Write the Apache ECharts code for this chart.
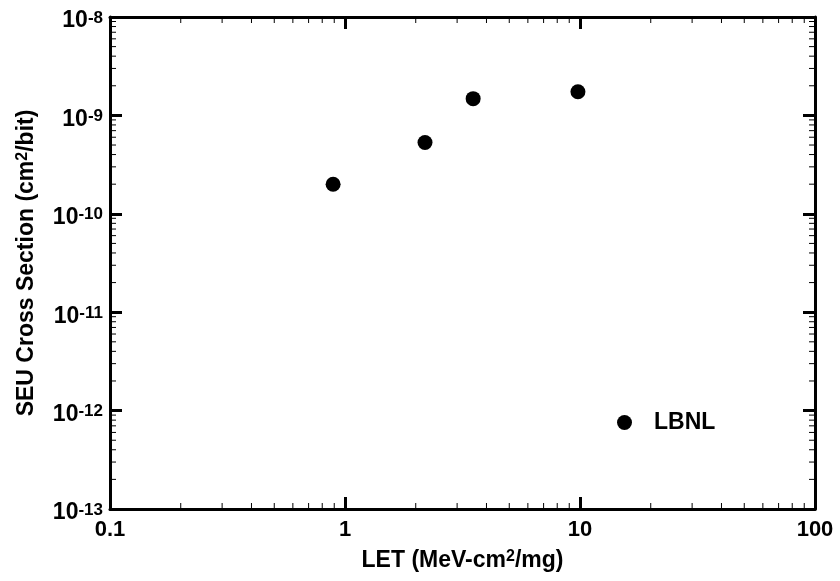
<!DOCTYPE html>
<html>
<head>
<meta charset="utf-8">
<script src="https://cdn.jsdelivr.net/npm/echarts@6/dist/echarts.min.js"></script>
<style>html,body{margin:0;padding:0;background:#fff}#c{width:840px;height:581px}</style>
</head>
<body>
<div id="c"></div>
<script>
// Data
var seriesName = 'LBNL';
var letValues = [0.89, 2.19, 3.51, 9.8];
var crossSection = [2.0e-10, 5.3e-10, 1.48e-9, 1.74e-9];
var xTicks = [0.1, 1, 10, 100];
var xTickLabels = ['0.1', '1', '10', '100'];
var yExponents = ['-13', '-12', '-11', '-10', '-9', '-8'];
var xMinor = [0.2,0.3,0.4,0.5,0.6,0.7,0.8,0.9, 2,3,4,5,6,7,8,9, 20,30,40,50,60,70,80,90];
var yMinor = [];
[-13,-12,-11,-10,-9].forEach(function(e){ for (var m=2;m<=9;m++) yMinor.push(m*Math.pow(10,e)); });

var FONT = 'Liberation Sans';
var chart = echarts.init(document.getElementById('c'));
var supRich = {
  b: {fontSize: 23, fontWeight: 'bold', fontFamily: FONT, color: '#000', lineHeight: 23, verticalAlign: 'bottom'},
  s: {fontSize: 17, fontWeight: 'bold', fontFamily: FONT, color: '#000', lineHeight: 17, padding: [0,0,12,0], verticalAlign: 'top'}
};
var titleRich = {
  t: {fontSize: 23, fontWeight: 'bold', fontFamily: FONT, color: '#000', lineHeight: 23, verticalAlign: 'bottom'},
  s: {fontSize: 16, fontWeight: 'bold', fontFamily: FONT, color: '#000', lineHeight: 16, padding: [0,0,11,0], verticalAlign: 'top'}
};
var axisLine = {show: true, onZero: false, lineStyle: {color: '#000', width: 3}};
var majorTick = {show: true, inside: true, length: 12, lineStyle: {color: '#000', width: 3}};

function minorRender(kind) {
  return function(params, api) {
    var v = api.value(kind === 'x' ? 0 : 1);
    var L = 6, a, b;
    if (kind === 'x') {
      a = api.coord([v, 1e-13]); b = api.coord([v, 1e-8]);
      return {type: 'group', children: [
        {type: 'line', shape: {x1: a[0], y1: a[1], x2: a[0], y2: a[1] - L}, style: {stroke: '#000', lineWidth: 1}},
        {type: 'line', shape: {x1: b[0], y1: b[1], x2: b[0], y2: b[1] + L}, style: {stroke: '#000', lineWidth: 1}}
      ]};
    } else {
      a = api.coord([0.1, v]); b = api.coord([100, v]);
      return {type: 'group', children: [
        {type: 'line', shape: {x1: a[0], y1: a[1], x2: a[0] + L, y2: a[1]}, style: {stroke: '#000', lineWidth: 1}},
        {type: 'line', shape: {x1: b[0], y1: b[1], x2: b[0] - L, y2: b[1]}, style: {stroke: '#000', lineWidth: 1}}
      ]};
    }
  };
}

chart.setOption({
  animation: false,
  backgroundColor: '#fff',
  grid: {left: 110, right: 25, top: 17, bottom: 70},
  legend: {
    data: [seriesName], left: 612, top: 406, itemWidth: 15, itemHeight: 15,
    itemStyle: {color: '#000', opacity: 1},
    textStyle: {fontSize: 23, fontWeight: 'bold', fontFamily: FONT, color: '#000', padding: [0,0,0,17]}
  },
  xAxis: [{
    type: 'log', logBase: 10, min: 0.1, max: 100, position: 'bottom',
    axisLine: axisLine, axisTick: majorTick, splitLine: {show: false},
    axisLabel: {margin: 10, fontSize: 22, fontWeight: 'bold', fontFamily: FONT, color: '#000',
      formatter: function(v){ var i = xTicks.findIndex(function(t){return Math.abs(Math.log10(t)-Math.log10(v))<1e-6;}); return i>=0 ? xTickLabels[i] : ''; }},
    name: '{t|LET (MeV-cm}{s|2}{t|/mg)}', nameLocation: 'middle', nameGap: 40,
    nameTextStyle: {rich: titleRich}
  }, {
    type: 'log', logBase: 10, min: 0.1, max: 100, position: 'top',
    axisLine: axisLine, axisTick: majorTick, axisLabel: {show: false}, splitLine: {show: false}
  }],
  yAxis: [{
    type: 'log', logBase: 10, min: 1e-13, max: 1e-8, position: 'left',
    axisLine: axisLine, axisTick: majorTick, splitLine: {show: false},
    axisLabel: {margin: 7, padding: [8,0,0,0],
      formatter: function(v){ var e = Math.round(Math.log10(v)); return '{b|10}{s|' + yExponents[e + 13] + '}'; },
      rich: supRich},
    name: '{t|SEU Cross Section (cm}{s|2}{t|/bit)}', nameLocation: 'middle', nameGap: 67, nameRotate: 90,
    nameTextStyle: {rich: titleRich}
  }, {
    type: 'log', logBase: 10, min: 1e-13, max: 1e-8, position: 'right',
    axisLine: axisLine, axisTick: majorTick, axisLabel: {show: false}, splitLine: {show: false}
  }],
  series: [{
    name: seriesName, type: 'scatter', symbol: 'circle', symbolSize: 15,
    itemStyle: {color: '#000', opacity: 1},
    data: letValues.map(function(x, i){ return [x, crossSection[i]]; })
  }, {
    type: 'custom', silent: true, renderItem: minorRender('x'),
    data: xMinor.map(function(v){ return [v, 1e-12]; })
  }, {
    type: 'custom', silent: true, renderItem: minorRender('y'),
    data: yMinor.map(function(v){ return [1, v]; })
  }]
});
</script>
</body>
</html>
